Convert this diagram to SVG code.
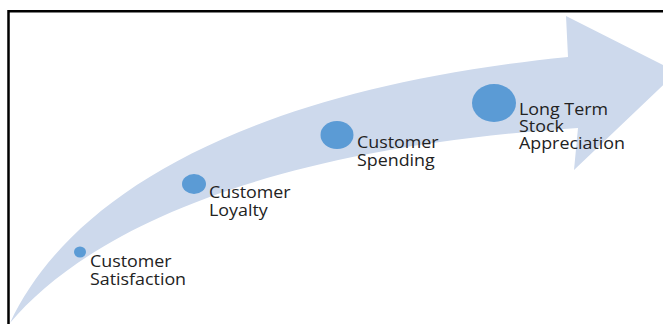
<svg xmlns="http://www.w3.org/2000/svg" width="663" height="324" viewBox="0 0 663 324">
  <style>
    .frame { fill: none; stroke: #000; stroke-width: 2.5; }
    .arrow { fill: #cdd9ec; }
    .dot { fill: #5b9bd5; }
    .label { font-family: "Open Sans", "Noto Sans", sans-serif; font-size: 17px; font-weight: 500; fill: #222; }
  </style>
  <rect width="663" height="324" fill="#fff"/>
  <path class="frame" d="M8.5 324 V11.2 H663"/>

  <g id="connectors">
    <!-- curved growth arrow: top edge, head, bottom edge back to the tail -->
    <path class="arrow" d="M10 323 C68 198 240 90 568 57 L566 16 L677 72 L574 170 L578 128 C240 150 78 242 10 323 Z"/>
  </g>

  <g id="satisfaction">
    <ellipse class="dot" cx="80" cy="252" rx="6" ry="5.5"/>
    <text class="label" transform="translate(90 267) scale(1.05 1)"><tspan x="0" y="0">Customer</tspan><tspan x="0" y="18">Satisfaction</tspan></text>
  </g>

  <g id="loyalty">
    <ellipse class="dot" cx="194" cy="184" rx="12" ry="10"/>
    <text class="label" transform="translate(209 198) scale(1.05 1)"><tspan x="0" y="0">Customer</tspan><tspan x="0" y="18">Loyalty</tspan></text>
  </g>

  <g id="spending">
    <ellipse class="dot" cx="337" cy="135" rx="16.5" ry="14"/>
    <text class="label" transform="translate(357 148) scale(1.05 1)"><tspan x="0" y="0">Customer</tspan><tspan x="0" y="18">Spending</tspan></text>
  </g>

  <g id="stock">
    <ellipse class="dot" cx="494" cy="103" rx="22" ry="19"/>
    <text class="label" transform="translate(519 115) scale(1.05 1)"><tspan x="0" y="0">Long Term</tspan><tspan x="0" y="17">Stock</tspan><tspan x="0" y="34">Appreciation</tspan></text>
  </g>
</svg>
